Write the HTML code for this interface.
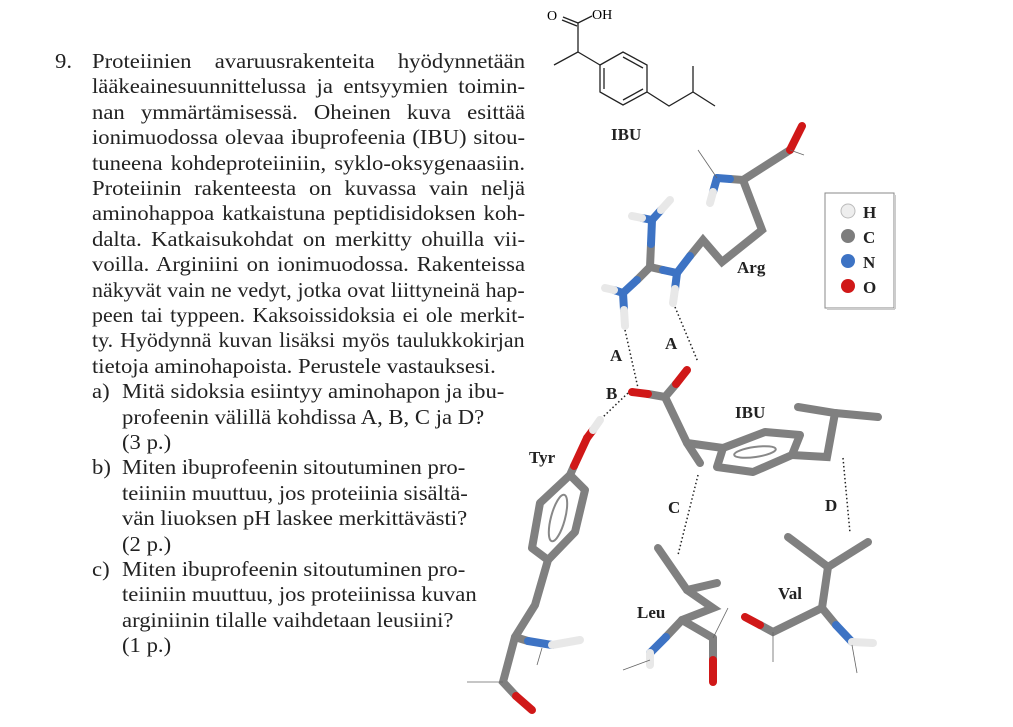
<!DOCTYPE html>
<html><head><meta charset="utf-8"><style>
body{margin:0;width:1013px;height:727px;background:#fff;position:relative;overflow:hidden;font-family:"Liberation Serif",serif;color:#222}
.l{position:absolute;font-size:21px;line-height:25px;white-space:nowrap;transform:scaleX(1.08);transform-origin:0 0}
.j{left:92px;width:401px;text-align:justify;text-align-last:justify}
.l.n{transform:scaleX(1.045);width:414px}
.s{left:122px}
.m{left:92px}
svg{position:absolute;left:0;top:0}
.lab{font-family:"Liberation Serif",serif;font-weight:bold;font-size:17px;fill:#222}
</style></head><body>
<div class="l" style="left:55px;top:49px">9.</div>
<div class="l j" style="top:49px">Proteiinien avaruusrakenteita hyödynnetään</div>
<div class="l j" style="top:74.4px">lääkeainesuunnittelussa ja entsyymien toimin-</div>
<div class="l j" style="top:99.8px">nan ymmärtämisessä. Oheinen kuva esittää</div>
<div class="l j" style="top:125.2px">ionimuodossa olevaa ibuprofeenia (IBU) sitou-</div>
<div class="l j" style="top:150.6px">tuneena kohdeproteiiniin, syklo-oksygenaasiin.</div>
<div class="l j" style="top:176px">Proteiinin rakenteesta on kuvassa vain neljä</div>
<div class="l j" style="top:201.4px">aminohappoa katkaistuna peptidisidoksen koh-</div>
<div class="l j" style="top:226.8px">dalta. Katkaisukohdat on merkitty ohuilla vii-</div>
<div class="l j" style="top:252.2px">voilla. Arginiini on ionimuodossa. Rakenteissa</div>
<div class="l j n" style="top:277.6px">näkyvät vain ne vedyt, jotka ovat liittyneinä hap-</div>
<div class="l j n" style="top:303px">peen tai typpeen. Kaksoissidoksia ei ole merkit-</div>
<div class="l j n" style="top:328.4px">ty. Hyödynnä kuvan lisäksi myös taulukkokirjan</div>
<div class="l m" style="top:353.8px">tietoja aminohapoista. Perustele vastauksesi.</div>
<div class="l m" style="top:379.2px">a)</div><div class="l s" style="top:379.2px">Mitä sidoksia esiintyy aminohapon ja ibu-</div>
<div class="l s" style="top:404.6px">profeenin välillä kohdissa A, B, C ja D?</div>
<div class="l s" style="top:430px">(3 p.)</div>
<div class="l m" style="top:455.4px">b)</div><div class="l s" style="top:455.4px">Miten ibuprofeenin sitoutuminen pro-</div>
<div class="l s" style="top:480.8px">teiiniin muuttuu, jos proteiinia sisältä-</div>
<div class="l s" style="top:506.2px">vän liuoksen pH laskee merkittävästi?</div>
<div class="l s" style="top:531.6px">(2 p.)</div>
<div class="l m" style="top:557px">c)</div><div class="l s" style="top:557px">Miten ibuprofeenin sitoutuminen pro-</div>
<div class="l s" style="top:582.4px">teiiniin muuttuu, jos proteiinissa kuvan</div>
<div class="l s" style="top:607.8px">arginiinin tilalle vaihdetaan leusiini?</div>
<div class="l s" style="top:633.2px">(1 p.)</div>

<svg width="1013" height="727" viewBox="0 0 1013 727">
<g stroke="#222" stroke-width="1.3" fill="none">
<line x1="578" y1="23" x2="563" y2="17"/><line x1="577" y1="26" x2="562" y2="20"/>
<line x1="578" y1="23" x2="592" y2="16"/>
<polyline points="578,23 578,52 554,65"/>
<line x1="578" y1="52" x2="600" y2="65"/>
<polygon points="600,65 623,52 647,65 647,92 623,105 600,92"/>
<line x1="604" y1="68" x2="604" y2="89"/><line x1="623" y1="57" x2="643" y2="68"/><line x1="623" y1="100" x2="643" y2="89"/>
<polyline points="647,92 669,106 693,92 715,106"/><line x1="693" y1="92" x2="693" y2="66"/>
</g>
<text x="547" y="20" font-size="14" font-family="Liberation Serif">O</text>
<text x="592" y="19" font-size="14" font-family="Liberation Serif">OH</text>
<text x="611" y="140" class="lab" font-size="18">IBU</text>

<g stroke-linecap="round" stroke-width="8" fill="none">
<g stroke="#808080">
<polyline points="743,180 790,150"/>
<polyline points="743,180 762,230 722,262 703,240 690,256"/>
<line x1="743" y1="180" x2="730" y2="179"/>
<line x1="650" y1="267" x2="663" y2="270"/>
<line x1="650" y1="267" x2="651" y2="244"/>
<line x1="650" y1="267" x2="637" y2="280"/>
</g>
<g stroke="#3d73c4">
<line x1="730" y1="179" x2="717" y2="178"/><line x1="717" y1="178" x2="713" y2="192"/>
<line x1="690" y1="256" x2="677" y2="273"/><line x1="663" y1="270" x2="677" y2="273"/>
<line x1="677" y1="273" x2="675" y2="289"/>
<line x1="651" y1="244" x2="652" y2="220"/><line x1="652" y1="220" x2="642" y2="218"/><line x1="652" y1="220" x2="661" y2="210"/>
<line x1="637" y1="280" x2="623" y2="293"/><line x1="623" y1="293" x2="614" y2="290"/><line x1="623" y1="293" x2="624" y2="310"/>
</g>
<g stroke="#e8e8e8">
<line x1="713" y1="192" x2="710" y2="203"/>
<line x1="675" y1="289" x2="673" y2="303"/>
<line x1="642" y1="218" x2="632" y2="216"/><line x1="661" y1="210" x2="670" y2="200"/>
<line x1="614" y1="290" x2="605" y2="288"/><line x1="624" y1="310" x2="625" y2="326"/>
</g>
<line x1="790" y1="150" x2="802" y2="126" stroke="#d01818"/>
<g stroke="#808080">
<line x1="665" y1="397" x2="648" y2="394"/>
<line x1="665" y1="397" x2="676" y2="384"/>
<polyline points="665,397 687,443 700,463"/>
<line x1="687" y1="443" x2="723" y2="448"/>
<polygon points="723,448 765,432 800,435 792,455 753,472 717,467" stroke-linejoin="round"/>
<polyline points="792,455 827,457 835,413 798,407"/>
<line x1="835" y1="413" x2="878" y2="417"/>
</g>
<line x1="648" y1="394" x2="632" y2="392" stroke="#d01818"/>
<line x1="676" y1="384" x2="687" y2="370" stroke="#d01818"/>
<g stroke="#808080">
<polyline points="570,475 585,490 575,532 548,560 532,548 540,503 570,475" stroke-linejoin="round"/>
<polyline points="548,560 535,605 515,637 503,682 516,696"/>
<line x1="515" y1="637" x2="528" y2="641"/>
<line x1="570" y1="475" x2="574" y2="466"/>
</g>
<line x1="574" y1="466" x2="587" y2="438" stroke="#d01818"/><line x1="587" y1="438" x2="593" y2="430" stroke="#d01818"/>
<line x1="593" y1="430" x2="600" y2="420" stroke="#e8e8e8"/>
<line x1="528" y1="641" x2="552" y2="645" stroke="#3d73c4"/><line x1="552" y1="645" x2="580" y2="640" stroke="#e8e8e8"/>
<line x1="516" y1="696" x2="532" y2="710" stroke="#d01818"/>
<g stroke="#808080">
<polyline points="658,548 687,590 713,608 682,620"/>
<line x1="687" y1="590" x2="717" y2="583"/>
<line x1="682" y1="620" x2="713" y2="638"/><line x1="713" y1="638" x2="713" y2="660"/>
<line x1="682" y1="620" x2="666" y2="637"/>
</g>
<line x1="666" y1="637" x2="650" y2="653" stroke="#3d73c4"/><line x1="650" y1="653" x2="650" y2="665" stroke="#e8e8e8"/>
<line x1="713" y1="660" x2="713" y2="682" stroke="#d01818"/>
<g stroke="#808080">
<line x1="788" y1="537" x2="828" y2="567"/><line x1="868" y1="542" x2="828" y2="567"/>
<polyline points="828,567 822,608 773,632 760,625"/>
<line x1="822" y1="608" x2="836" y2="625"/>
</g>
<line x1="760" y1="625" x2="745" y2="617" stroke="#d01818"/>
<line x1="836" y1="625" x2="852" y2="642" stroke="#3d73c4"/><line x1="852" y1="642" x2="873" y2="643" stroke="#e8e8e8"/>
</g>
<ellipse cx="755" cy="452" rx="21" ry="5" transform="rotate(-8 755 452)" fill="none" stroke="#888" stroke-width="2"/>
<ellipse cx="558" cy="518" rx="7" ry="24" transform="rotate(15 558 518)" fill="none" stroke="#888" stroke-width="2"/>
<g stroke="#666" stroke-width="0.8">
<line x1="717" y1="178" x2="698" y2="150"/><line x1="790" y1="150" x2="804" y2="155"/>
<line x1="503" y1="682" x2="467" y2="682"/><line x1="542" y1="648" x2="537" y2="665"/>
<line x1="650" y1="660" x2="623" y2="670"/><line x1="713" y1="638" x2="728" y2="608"/>
<line x1="773" y1="632" x2="773" y2="662"/><line x1="852" y1="645" x2="857" y2="673"/>
</g>
<g stroke="#222" stroke-width="1.5" stroke-dasharray="1.5 2.5" fill="none">
<line x1="625" y1="330" x2="638" y2="388"/><line x1="675" y1="307" x2="698" y2="362"/>
<line x1="628" y1="393" x2="603" y2="417"/>
<line x1="698" y1="475" x2="678" y2="555"/><line x1="843" y1="458" x2="850" y2="533"/>
</g>
<text x="610" y="361" class="lab">A</text>
<text x="665" y="349" class="lab">A</text>
<text x="606" y="399" class="lab">B</text>
<text x="668" y="513" class="lab">C</text>
<text x="825" y="511" class="lab">D</text>
<text x="737" y="273" class="lab">Arg</text>
<text x="735" y="418" class="lab">IBU</text>
<text x="529" y="463" class="lab">Tyr</text>
<text x="637" y="618" class="lab">Leu</text>
<text x="778" y="599" class="lab">Val</text>
<rect x="825" y="193" width="69" height="115" fill="#fff" stroke="#888" stroke-width="1"/>
<line x1="827" y1="309" x2="895" y2="309" stroke="#ccc" stroke-width="2"/>
<line x1="895" y1="195" x2="895" y2="309" stroke="#ccc" stroke-width="2"/>
<circle cx="848" cy="211" r="7" fill="#eee" stroke="#bbb"/>
<circle cx="848" cy="236" r="7" fill="#7d7d7d"/>
<circle cx="848" cy="261" r="7" fill="#3d73c4"/>
<circle cx="848" cy="286" r="7" fill="#d01818"/>
<text x="863" y="218" class="lab" font-size="18">H</text>
<text x="863" y="243" class="lab" font-size="18">C</text>
<text x="863" y="268" class="lab" font-size="18">N</text>
<text x="863" y="293" class="lab" font-size="18">O</text>
</svg>
</body></html>
